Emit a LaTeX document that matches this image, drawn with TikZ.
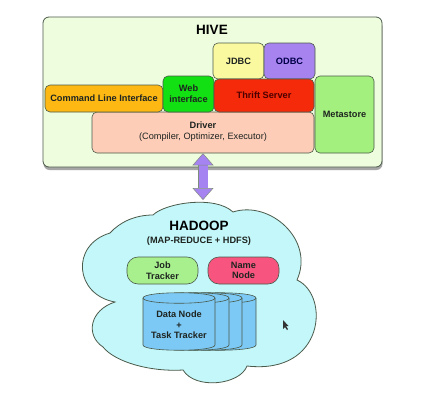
\documentclass[tikz,border=0pt]{standalone}
\usepackage{fontspec}
\setmainfont{Liberation Sans}
\usepackage{xcolor}
\usepackage{tikz}
\usetikzlibrary{arrows.meta,shadows}
\definecolor{hivec}{HTML}{EEFDDD}
\definecolor{edgec}{HTML}{4A5A4A}
\definecolor{jdbcc}{HTML}{FBF9A0}
\definecolor{odbcc}{HTML}{A783F0}
\definecolor{clic}{HTML}{FDB813}
\definecolor{webc}{HTML}{12E012}
\definecolor{thriftc}{HTML}{F52A0A}
\definecolor{driverc}{HTML}{FDCDB8}
\definecolor{metac}{HTML}{A4F07E}
\definecolor{linkc}{HTML}{A583F0}
\definecolor{cloudc}{HTML}{C4F7FA}
\definecolor{jobc}{HTML}{A8F08E}
\definecolor{namec}{HTML}{F7557F}
\definecolor{cylc}{HTML}{7CC9F5}
\definecolor{inkc}{HTML}{1E2420}
\tikzset{
  box/.style={draw=edgec,line width=0.6pt,rounded corners=5pt,align=center,inner sep=0pt,text=inkc,font=\fontsize{9.2}{10.6}\selectfont\bfseries},
  pill/.style={box,rounded corners=11pt,minimum width=71pt,minimum height=27pt},
  ar/.style={{Triangle[width=21pt,length=12pt,fill=linkc]}-{Triangle[width=21pt,length=12pt,fill=linkc]},draw=edgec!70,line width=0.5pt,double=linkc,double distance=9pt}
}
\begin{document}
\begin{tikzpicture}[x=1pt,y=-1pt]
\useasboundingbox (0,0) rectangle (424,407);
\fill[white] (0,0) rectangle (424,407);
% hive frame
\draw[draw=edgec,line width=0.8pt,rounded corners=6pt,fill=hivec,drop shadow={shadow xshift=0.5pt,shadow yshift=-3pt,fill=black!70}] (43,17) rectangle (382,167);
\node[font=\fontsize{13.5}{15}\selectfont\bfseries,text=black] (hive) at (212,29.5) {HIVE};
\node[box,fill=driverc,minimum width=222pt,minimum height=41pt] (driver) at (203,132.5) {};
\node[box,draw=none,fill=none] at (203,132) {Driver\\[0.5pt]\mdseries (Compiler, Optimizer, Executor)};
\node[box,fill=jdbcc,minimum width=51pt,minimum height=36pt] (jdbc) at (238.5,61) {JDBC};
\node[box,fill=odbcc,minimum width=51pt,minimum height=36pt,text=black!60!blue!70!black] (odbc) at (289.5,61) {ODBC};
\node[box,fill=clic,minimum width=118pt,minimum height=27pt] (cli) at (104,98.5) {Command Line Interface};
\node[box,fill=webc,minimum width=51pt,minimum height=36pt] (web) at (188.5,94) {Web\\interface};
\node[box,fill=thriftc,minimum width=100pt,minimum height=33pt,text=black!70!red] (thrift) at (264,95.5) {Thrift Server};
\node[box,fill=metac,minimum width=59pt,minimum height=77pt] (meta) at (344.5,114.5) {Metastore};
% hadoop cloud
\draw[draw=edgec,line width=0.8pt,fill=cloudc]
  (153,215) .. controls (165,203) and (215,195) .. (233,212)
  .. controls (270,200) and (315,240) .. (297,280)
  .. controls (330,295) and (325,375) .. (247,366)
  .. controls (240,385) and (195,390) .. (183,370)
  .. controls (150,372) and (115,362) .. (103,347)
  .. controls (85,335) and (90,310) .. (115,302)
  .. controls (75,295) and (70,245) .. (110,233)
  .. controls (120,222) and (135,215) .. (153,215) -- cycle;
\coordinate (cloudtop) at (203,200);
\draw[ar] (driver.south) -- (cloudtop);
\node[font=\fontsize{13.5}{15}\selectfont\bfseries,text=black] (hadoop) at (199,226) {HADOOP};
\node[font=\fontsize{9.2}{10}\selectfont\bfseries,text=inkc] (mapred) at (199,241) {(MAP-REDUCE + HDFS)};
\node[pill,fill=jobc] (job) at (162.5,270.5) {Job\\Tracker};
\node[pill,fill=namec] (name) at (243.5,270.5) {Name\\Node};
% data node stack, back to front
\foreach \dx in {41,27,14,0}{
  \draw[draw=edgec,line width=0.6pt,fill=cylc] (143+\dx,298) -- (143+\dx,345)
    .. controls (143+\dx,352) and (215+\dx,352) .. (215+\dx,345) -- (215+\dx,298)
    .. controls (215+\dx,291) and (143+\dx,291) .. (143+\dx,298) -- cycle;
  \draw[draw=edgec,line width=0.6pt] (143+\dx,298) .. controls (143+\dx,305) and (215+\dx,305) .. (215+\dx,298);
}
\node[box,draw=none,fill=none] (data) at (179,325) {Data Node\\+\\Task Tracker};
% cursor
\fill[black!80] (283,320) -- (283,329) -- (285,327) -- (287,330) -- (288,329) -- (286,326) -- (288.5,326) -- cycle;
\end{tikzpicture}
\end{document}
